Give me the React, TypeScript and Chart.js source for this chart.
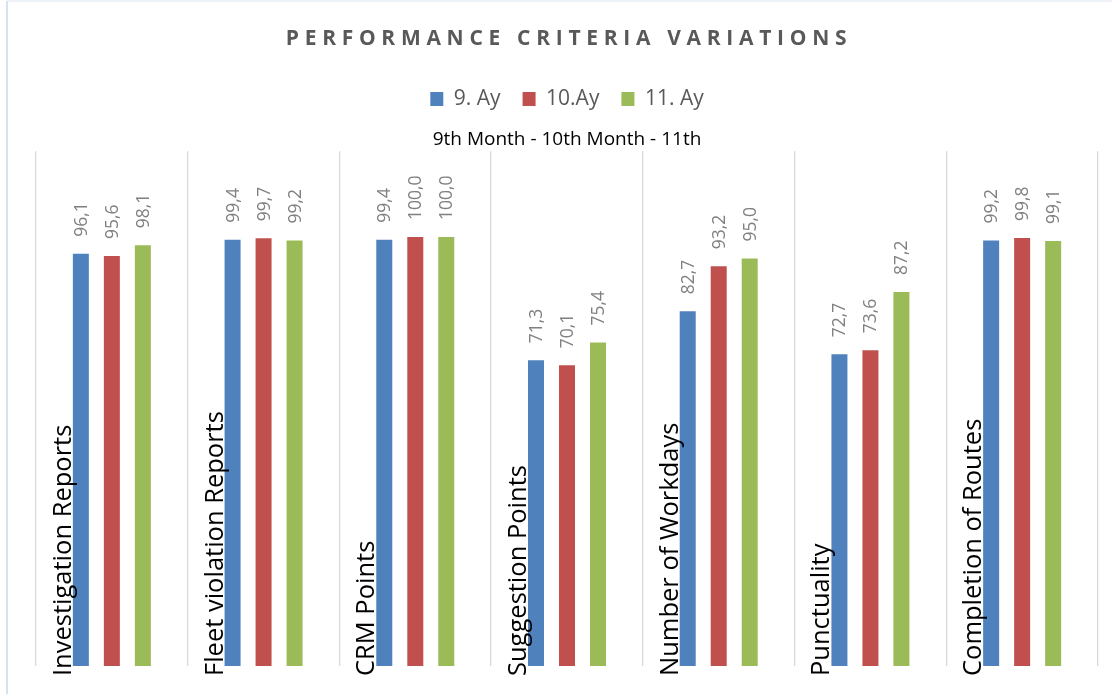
import React, { useEffect, useRef } from "react";
import { Chart, registerables } from "chart.js";

Chart.register(...registerables);

const categories = [
  "Investigation Reports",
  "Fleet violation Reports",
  "CRM Points",
  "Suggestion Points",
  "Number of Workdays",
  "Punctuality",
  "Completion of Routes",
];
const seriesNames = ["9. Ay", "10.Ay", "11. Ay"];
const month9 = [96.1, 99.4, 99.4, 71.3, 82.7, 72.7, 99.2];
const month10 = [95.6, 99.7, 100.0, 70.1, 93.2, 73.6, 99.8];
const month11 = [98.1, 99.2, 100.0, 75.4, 95.0, 87.2, 99.1];
const seriesColors = ["#4f81bd", "#c0504d", "#9bbb59"];
const chartTitle = "PERFORMANCE CRITERIA VARIATIONS";
const chartSubtitle = "9th Month - 10th Month - 11th";

const FONT = "'Open Sans', 'Noto Sans', sans-serif";

const decorPlugin = {
  id: "decor",
  beforeDraw(chart: any) {
    const ctx = chart.ctx;
    ctx.save();
    ctx.fillStyle = "#ffffff";
    ctx.fillRect(0, 0, chart.width, chart.height);
    ctx.strokeStyle = "#c9d7ec";
    ctx.lineWidth = 1.5;
    ctx.beginPath();
    ctx.moveTo(7, 1);
    ctx.lineTo(7, chart.height);
    ctx.stroke();
    ctx.strokeStyle = "#e8eef7";
    ctx.beginPath();
    ctx.moveTo(7, 1);
    ctx.lineTo(chart.width, 1);
    ctx.stroke();
    // title with letter spacing
    ctx.font = `bold 21px ${FONT}`;
    (ctx as any).letterSpacing = "5.7px";
    ctx.fillStyle = "#595959";
    ctx.textBaseline = "middle";
    ctx.textAlign = "left";
    const w = ctx.measureText(chartTitle).width;
    ctx.fillText(chartTitle, 569 - w / 2, 39);
    ctx.restore();
  },
  afterDatasetsDraw(chart: any) {
    const ctx = chart.ctx;
    ctx.save();
    // value labels
    ctx.font = `17.5px ${FONT}`;
    ctx.fillStyle = "#808080";
    ctx.textAlign = "left";
    ctx.textBaseline = "middle";
    chart.data.datasets.forEach((ds: any, di: number) => {
      const meta = chart.getDatasetMeta(di);
      meta.data.forEach((bar: any, i: number) => {
        const v = ds.data[i];
        const txt = v.toFixed(1).replace(".", ",");
        ctx.save();
        ctx.translate(bar.x + 1, bar.y - 17);
        ctx.rotate(-Math.PI / 2);
        ctx.fillText(txt, 0, 0);
        ctx.restore();
      });
    });
    // category labels
    ctx.font = `25.5px ${FONT}`;
    ctx.fillStyle = "#000000";
    ctx.textBaseline = "alphabetic";
    const meta0 = chart.getDatasetMeta(0);
    categories.forEach((c, i) => {
      const bar: any = meta0.data[i];
      const x = bar.x - bar.width / 2 - 2;
      ctx.save();
      ctx.translate(x, 676);
      ctx.rotate(-Math.PI / 2);
      ctx.fillText(c, 0, 0);
      ctx.restore();
    });
    ctx.restore();
  },
};

export default function App() {
  const ref = useRef<HTMLCanvasElement>(null);
  useEffect(() => {
    if (!ref.current) return;
    const data = [month9, month10, month11];
    const chart = new Chart(ref.current, {
      type: "bar",
      data: {
        labels: categories,
        datasets: seriesNames.map((name, i) => ({
          label: name,
          data: data[i],
          backgroundColor: seriesColors[i],
          borderWidth: 0,
          categoryPercentage: 0.613,
          barPercentage: 0.516,
        })),
      },
      options: {
        responsive: false,
        animation: false,
        layout: { padding: { top: 66.5, left: 36, right: 14, bottom: 28 } },
        plugins: {
          title: { display: false },
          legend: {
            display: true,
            position: "top",
            weight: 1000,
            labels: {
              boxWidth: 13,
              boxHeight: 14,
              padding: 22,
              color: "#595959",
              font: { family: FONT, size: 21 },
            },
          } as any,
          subtitle: {
            display: true,
            text: chartSubtitle,
            color: "#000000",
            weight: 500,
            font: { family: FONT, size: 19, weight: "normal" },
            padding: { top: 9, bottom: 0 },
          } as any,
          tooltip: { enabled: false },
        },
        scales: {
          x: {
            display: true,
            offset: true,
            grid: {
              display: true,
              offset: true,
              color: "#d9d9d9",
              lineWidth: 1.3,
              drawTicks: false,
            },
            border: { display: false },
            ticks: { display: false },
          },
          y: {
            display: false,
            min: 0,
            max: 120,
          },
        },
      },
      plugins: [decorPlugin],
    });
    return () => chart.destroy();
  }, []);
  return (
    <div style={{ position: "fixed", left: 0, top: 0, width: 1112, height: 694 }}>
      <canvas ref={ref} width={1112} height={694} />
    </div>
  );
}
